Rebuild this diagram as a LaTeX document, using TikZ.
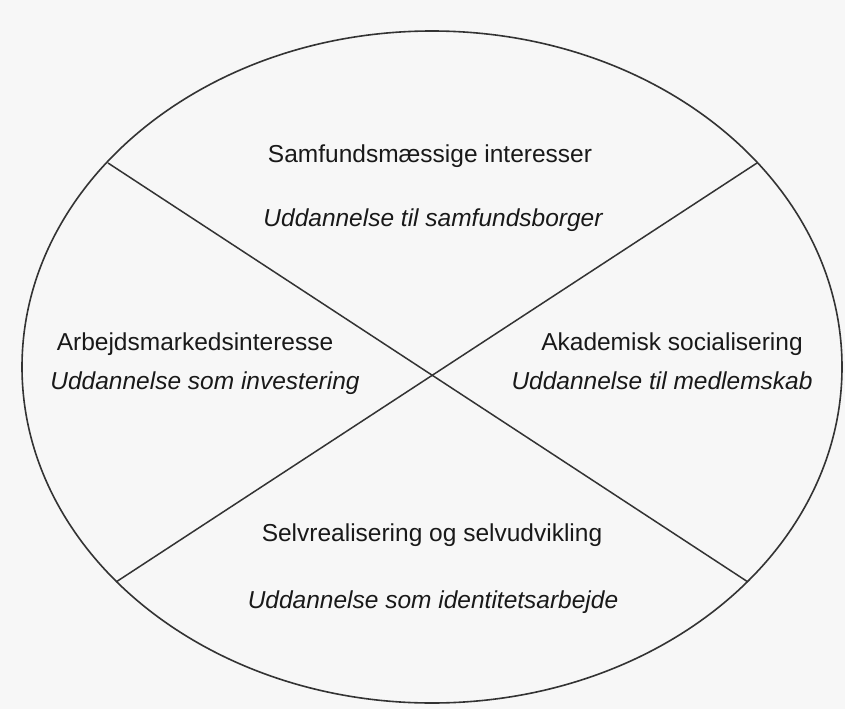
\documentclass[tikz,border=0pt]{standalone}
\usepackage{fontspec}
\setmainfont{Liberation Sans}
\begin{document}
\begin{tikzpicture}[x=1pt,y=-1pt,
  rim/.style={draw=black!80,line width=1.6pt},
  divider/.style={draw=black!80,line width=1.5pt},
  head/.style={font=\fontsize{24.5}{28}\selectfont,text=black!90,inner sep=0pt,anchor=base},
  sub/.style={font=\fontsize{24.5}{28}\selectfont\itshape,text=black!90,inner sep=0pt,anchor=base}]
  % page
  \fill[black!3] (0,0) rectangle (845,709);
  \useasboundingbox (0,0) rectangle (845,709);
  % outer ellipse
  \draw[rim] (432,367) ellipse [x radius=410, y radius=336];
  % the two crossing dividers, ending on the ellipse
  \coordinate (ul) at (108,163);
  \coordinate (ur) at (757,163);
  \coordinate (ll) at (116,582);
  \coordinate (lr) at (748,582);
  \draw[divider] (ul) -- (lr);
  \draw[divider] (ll) -- (ur);
  % top quadrant
  \node[head] (t1) at (430,162) {Samfundsmæssige interesser};
  \node[sub]  (t2) at (433,226) {Uddannelse til samfundsborger};
  % left quadrant
  \node[head] (l1) at (195,350) {Arbejdsmarkedsinteresse};
  \node[sub]  (l2) at (205,389) {Uddannelse som investering};
  % right quadrant
  \node[head] (r1) at (672,350) {Akademisk socialisering};
  \node[sub]  (r2) at (662,389) {Uddannelse til medlemskab};
  % bottom quadrant
  \node[head] (b1) at (432,541) {Selvrealisering og selvudvikling};
  \node[sub]  (b2) at (433,608) {Uddannelse som identitetsarbejde};
\end{tikzpicture}
\end{document}
